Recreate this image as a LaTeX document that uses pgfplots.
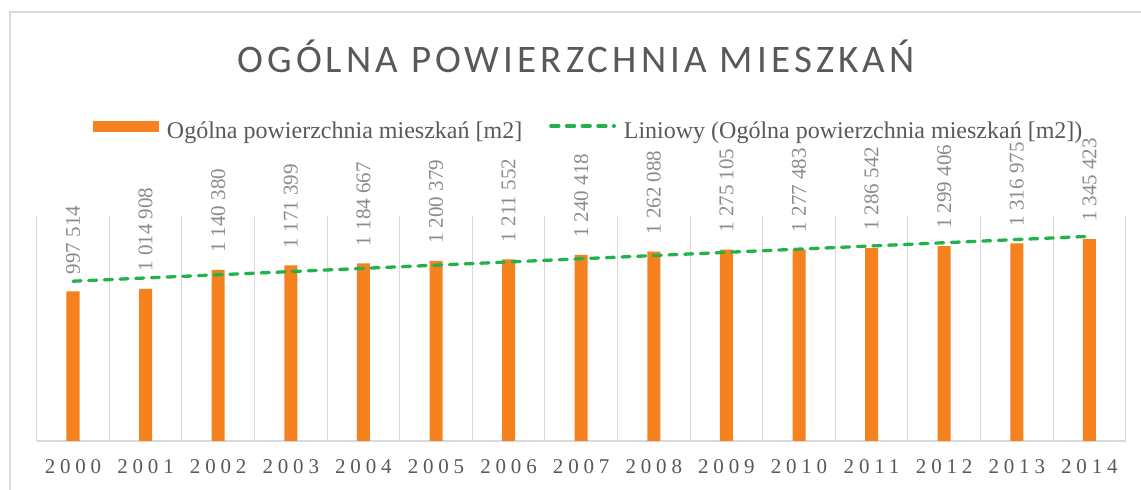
\documentclass[border=0pt]{standalone}
\usepackage{fontspec}
\setmainfont{Liberation Serif}
\newfontfamily\titlefont[LetterSpace=10.5]{Carlito}
\newfontfamily\yearfont[LetterSpace=23]{Liberation Serif}
\usepackage{pgfplots}
\usepackage{pgfplotstable}
\pgfplotsset{compat=1.18}
\definecolor{barorange}{HTML}{F5821F}
\definecolor{trendgreen}{HTML}{22B14C}
\definecolor{gridgray}{HTML}{D9D9D9}
\definecolor{txtgray}{HTML}{595959}
\definecolor{lblgray}{HTML}{8C8C8C}
\pgfplotstableread[col sep=comma]{
x,y,lab
0,997514,997~514
1,1014908,1~014~908
2,1140380,1~140~380
3,1171399,1~171~399
4,1184667,1~184~667
5,1200379,1~200~379
6,1211552,1~211~552
7,1240418,1~240~418
8,1262088,1~262~088
9,1275105,1~275~105
10,1277483,1~277~483
11,1286542,1~286~542
12,1299406,1~299~406
13,1316975,1~316~975
14,1345423,1~345~423
}\bardata
\begin{document}
\begin{tikzpicture}
\useasboundingbox (0,0) rectangle (1141bp,490bp);
\fill[white] (0,0) rectangle (1141bp,490bp);
\draw[gridgray, line width=2.5bp] (10bp,0) -- (10bp,478bp) -- (1141bp,478bp);
\node[font=\titlefont\fontsize{39bp}{44bp}\selectfont, text=txtgray, anchor=base] at (576bp,417bp) {OGÓLNA POWIERZCHNIA MIESZKAŃ};
\begin{axis}[
  at={(36.7bp,49bp)}, anchor=south west,
  scale only axis, width=1089bp, height=225bp,
  xmin=-0.5, xmax=14.5, ymin=0, ymax=1500000,
  axis x line*=bottom, axis y line=none,
  x axis line style={draw=gridgray, line width=1.5bp},
  xtick={0,...,14},
  xticklabels={2000,2001,2002,2003,2004,2005,2006,2007,2008,2009,2010,2011,2012,2013,2014},
  xticklabel style={font=\yearfont\fontsize{21bp}{24bp}\selectfont, text=txtgray, anchor=base, yshift=-33bp},
  major tick length=0pt, minor tick length=0pt,
  minor xtick={-0.5,0.5,...,14.5},
  xminorgrids, minor grid style={draw=gridgray, line width=1bp},
  ytick=\empty,
  clip=false,
  legend columns=2,
  legend style={draw=none, fill=none, inner sep=0pt, outer sep=0pt,
    font=\fontsize{24bp}{28bp}\selectfont, text=txtgray,
    at={(0.0517,1.382)}, anchor=west,
    nodes={inner sep=0pt},
    /tikz/every odd column/.style={column sep=8bp},
    /tikz/every even column/.style={column sep=27bp}},
]
\addplot[ybar, bar width=13bp, fill=barorange, draw=none,
  point meta=explicit symbolic,
  nodes near coords,
  every node near coord/.append style={font=\fontsize{21bp}{24bp}\selectfont, text=lblgray, rotate=90, anchor=west, inner sep=0pt, xshift=17bp},
  legend image code/.code={\fill[barorange] (0bp,-1bp) rectangle (66bp,10bp);}
] table[x=x, y=y, meta=lab] {\bardata};
\addlegendentry{Ogólna powierzchnia mieszkań [m2]}
\addplot[sharp plot, trendgreen, line width=3.3bp, line cap=round, dash pattern=on 8bp off 7.7bp,
  legend image code/.code={\draw[trendgreen, line width=3.3bp, line cap=round, dash pattern=on 8bp off 7.7bp] (1.6bp,4.5bp) -- (65bp,4.5bp);}
] coordinates {(0,1065402) (14,1364497)};
\addlegendentry{Liniowy (Ogólna powierzchnia mieszkań [m2])}
\end{axis}
\end{tikzpicture}
\end{document}
